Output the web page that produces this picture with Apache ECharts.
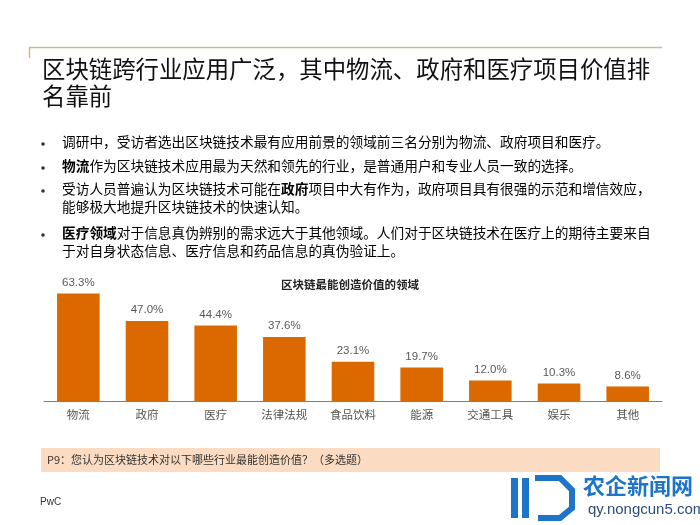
<!DOCTYPE html>
<html><head><meta charset="utf-8">
<script src="https://cdn.jsdelivr.net/npm/echarts@6/dist/echarts.min.js"></script>
<style>html,body{margin:0;padding:0;background:#fff}#c{width:700px;height:525px}</style>
</head><body><div id="c"></div>
<script>
const categories = ['物流','政府','医疗','法律法规','食品饮料','能源','交通工具','娱乐','其他'];
const values = [63.3, 47.0, 44.4, 37.6, 23.1, 19.7, 12.0, 10.3, 8.6];
const titleLines = ['区块链跨行业应用广泛，其中物流、政府和医疗项目价值排', '名靠前'];
const chartTitle = '区块链最能创造价值的领域';
const footnote = 'P9：您认为区块链技术对以下哪些行业最能创造价值？（多选题）';

const FONT = '"Noto Sans CJK SC","Noto Sans",sans-serif';
const chart = echarts.init(document.getElementById('c'), null, {renderer:'canvas'});

function bulletText(x, y, parts){
  const rich = {n:{fontSize:13.7,fontFamily:FONT,color:'#444'}, b:{fontSize:13.7,fontFamily:FONT,color:'#000',fontWeight:'bold'}};
  const t = parts.map(p => '{' + (p[1]?'b':'n') + '|' + p[0] + '}').join('');
  return {type:'text', left:x, top:y, style:{text:t, rich:rich}};
}
const bullets = [
  [135, [['调研中，受访者选出区块链技术最有应用前景的领域前三名分别为物流、政府项目和医疗。',0]]],
  [159, [['物流',1],['作为区块链技术应用最为天然和领先的行业，是普通用户和专业人员一致的选择。',0]]],
  [182, [['受访人员普遍认为区块链技术可能在',0],['政府',1],['项目中大有作为，政府项目具有很强的示范和增信效应，',0]]],
  [200, [['能够极大地提升区块链技术的快速认知。',0]]],
  [226, [['医疗领域',1],['对于信息真伪辨别的需求远大于其他领域。人们对于区块链技术在医疗上的期待主要来自',0]]],
  [244, [['于对自身状态信息、医疗信息和药品信息的真伪验证上。',0]]]
];
const dots = [144,168,191,235];

const graphics = [
  {type:'line', shape:{x1:29,y1:47.5,x2:662,y2:47.5}, style:{stroke:'#cbb89a',lineWidth:1.5}},
  {type:'line', shape:{x1:29.5,y1:47,x2:29.5,y2:58}, style:{stroke:'#cbb89a',lineWidth:1.5}},
  {type:'text', left:42, top:57, style:{text:titleLines[0], font:'23.4px '+FONT, fill:'#111'}},
  {type:'text', left:42, top:84, style:{text:titleLines[1], font:'23.4px '+FONT, fill:'#111'}},
  {type:'rect', shape:{x:41,y:448,width:619,height:24}, style:{fill:'#fbdcc2'}},
  {type:'text', left:47, top:454, style:{text:footnote, font:'11px '+FONT, fill:'#333'}},
  {type:'text', left:40, top:497, style:{text:'PwC', font:'10px Arial, "Liberation Sans", sans-serif', fill:'#333'}},
  {type:'rect', shape:{x:511,y:478,width:7,height:40}, style:{fill:'#1e74c8'}},
  {type:'rect', shape:{x:522,y:478,width:7,height:40}, style:{fill:'#1e74c8'}},
  {type:'polyline', shape:{points:[[535,478],[560,478],[572,490],[572,508],[560,518],[538,518]]}, style:{stroke:'#1e74c8',lineWidth:6,fill:null}},
  {type:'text', left:583, top:475, style:{text:'农企新闻网', font:'bold 22px '+FONT, fill:'#1e74c8'}},
  {type:'text', left:588, top:502, style:{text:'qy.nongcun5.com', font:'15px "Liberation Sans", Arial, sans-serif', fill:'#2d4d7a'}}
];
dots.forEach(y => graphics.push({type:'circle', shape:{cx:43,cy:y,r:1.8}, style:{fill:'#333'}}));
bullets.forEach(b => graphics.push(bulletText(62, b[0], b[1])));

chart.setOption({
  animation:false,
  backgroundColor:'#fff',
  title:{text:chartTitle, left:'center', top:274, textStyle:{fontSize:11.5, fontWeight:'bold', fontFamily:FONT, color:'#222'}},
  grid:{left:44, right:38, top:282, bottom:124},
  xAxis:{type:'category', data:categories, axisTick:{show:false},
    axisLine:{lineStyle:{color:'#808080', width:1}},
    axisLabel:{fontSize:11.5, fontFamily:FONT, color:'#555', margin:8}},
  yAxis:{type:'value', min:0, max:70, show:false, splitLine:{show:false}},
  series:[{type:'bar', data:values, barWidth:'62%', itemStyle:{color:'#dc6900'},
    label:{show:true, position:'top', distance:5, fontSize:11.5, fontFamily:'Arial,"Liberation Sans",sans-serif', color:'#595959',
      formatter:p => p.value.toFixed(1) + '%'}}],
  graphic:graphics
});
</script></body></html>
